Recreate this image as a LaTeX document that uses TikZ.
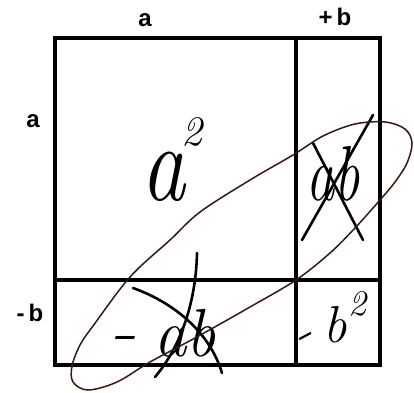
\documentclass[tikz,border=0pt]{standalone}
\usepackage{fontspec}
\newfontfamily\labfont{Liberation Sans}
\definecolor{loopcol}{RGB}{55,25,15}
\begin{document}
\begin{tikzpicture}[x=1pt,y=-1pt,
  gridline/.style={line width=3.2pt, line cap=rect},
  lab/.style={inner sep=0pt, font=\labfont\bfseries\fontsize{24}{24}\selectfont},
  hand/.style={inner sep=0pt},
  ink/.style={line width=2.6pt, line cap=round},
  loopline/.style={line width=1.5pt, draw=loopcol}]
\useasboundingbox (0,0) rectangle (414,392);
\fill[white] (0,0) rectangle (414,392);
% grid
\coordinate (tl) at (55,38);
\coordinate (br) at (380,365);
\coordinate (vt) at (296,38);
\coordinate (vb) at (296,365);
\coordinate (hl) at (55,280);
\coordinate (hr) at (380,280);
\draw[gridline] (tl) rectangle (br);
\draw[gridline] (vt) -- (vb);
\draw[gridline] (hl) -- (hr);
% labels
\node[lab] (topa) at (145,20) {a};
\node[lab] (topb) at (335,17) {+\,b};
\node[lab] (lefta) at (33,121) {a};
\node[lab] (leftb) at (30,313) {-\,b};
% handwritten cell contents
\node[hand, xscale=0.8, font=\itshape\fontsize{110}{110}\selectfont] (asq) at (163,177) {a};
\node[hand, font=\itshape\fontsize{42}{42}\selectfont] (asqexp) at (192,132) {2};
\node[hand, xscale=0.72, font=\itshape\fontsize{78}{78}\selectfont] (abtop) at (333,174) {ab};
\node[hand, xscale=1.4, font=\itshape\fontsize{58}{58}\selectfont] (minus1) at (123,343) {-};
\node[hand, xscale=0.95, font=\itshape\fontsize{68}{68}\selectfont] (abbot) at (185,333) {ab};
\node[hand, rotate=28, xscale=1.3, font=\itshape\fontsize{44}{44}\selectfont] (minus2) at (306,341) {-};
\node[hand, font=\itshape\fontsize{52}{52}\selectfont] (bsq) at (335,325) {b};
\node[hand, font=\itshape\fontsize{36}{36}\selectfont] (bsqexp) at (357,304) {2};
% crossing-out strokes
\draw[ink] (313,143) -- (363,240);
\draw[ink] (373,115) -- (302,240);
\draw[ink] (133,288) .. controls (175,303) and (210,333) .. (222,373);
\draw[ink] (197,253) .. controls (196,300) and (182,345) .. (155,377);
% loop
\draw[loopline] plot[smooth cycle, tension=0.55] coordinates {
  (385,122) (405,129) (412,143) (407,163) (395,182) (380,200) (355,228)
  (330,253) (296,280) (250,307) (195,338) (150,362) (117,382) (88,390)
  (73,382) (72,366) (80,345) (93,326) (130,277) (170,240) (200,212)
  (250,180) (293,155) (323,136) (355,124)};
\end{tikzpicture}
\end{document}
